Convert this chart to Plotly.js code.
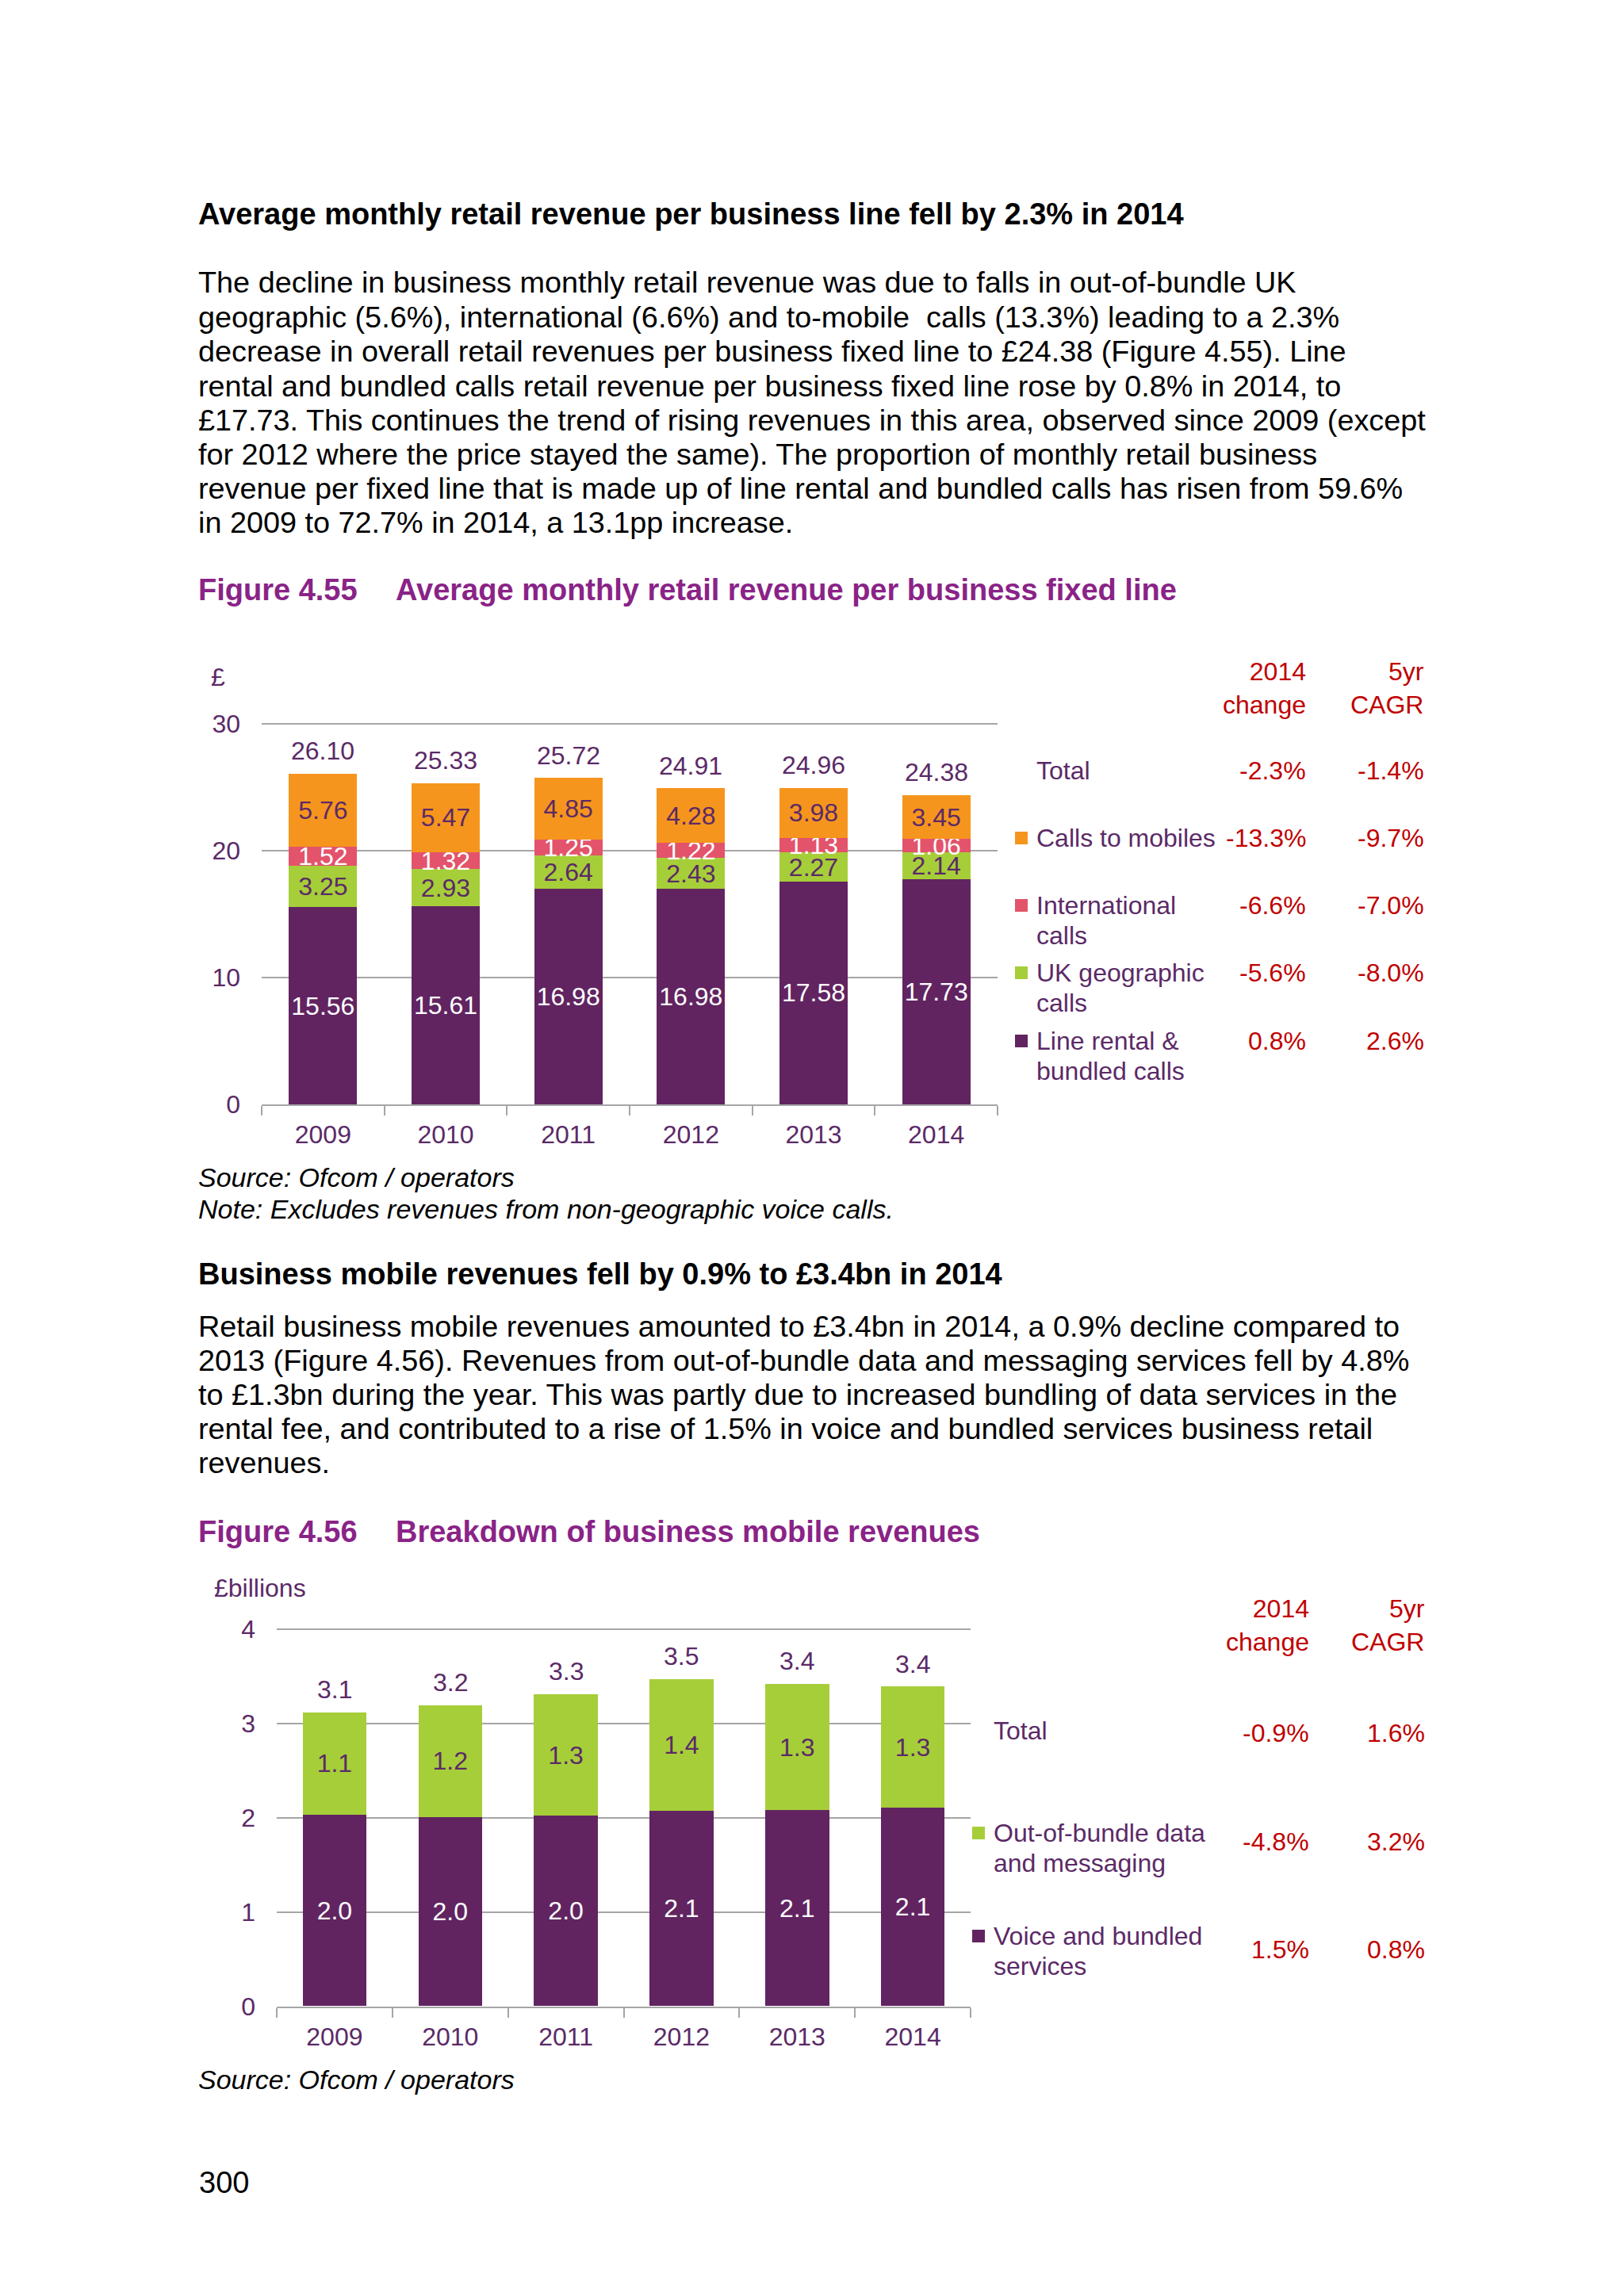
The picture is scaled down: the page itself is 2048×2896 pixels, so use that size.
<!DOCTYPE html>
<html>
<head>
<meta charset="utf-8">
<script src="https://cdn.plot.ly/plotly-3.0.1.min.js"></script>
<style>
  html, body { margin: 0; padding: 0; background: #ffffff; }
  #page { width: 2048px; height: 2896px; }
</style>
</head>
<body>
<div id="page"></div>
<script>
// ---------------- DATA ----------------
const years = ['2009', '2010', '2011', '2012', '2013', '2014'];

// Figure 4.55 (GBP per business fixed line per month)
const lineRental = [15.56, 15.61, 16.98, 16.98, 17.58, 17.73];
const ukGeographic = [3.25, 2.93, 2.64, 2.43, 2.27, 2.14];
const international = [1.52, 1.32, 1.25, 1.22, 1.13, 1.06];
const callsToMobiles = [5.76, 5.47, 4.85, 4.28, 3.98, 3.45];
const totals455 = [26.10, 25.33, 25.72, 24.91, 24.96, 24.38];
const yTicks455 = [0, 10, 20, 30];

const legend455 = ['Total', 'Calls to mobiles', 'International<br>calls', 'UK geographic<br>calls', 'Line rental &<br>bundled calls'];
const change455 = ['-2.3%', '-13.3%', '-6.6%', '-5.6%', '0.8%'];
const cagr455 = ['-1.4%', '-9.7%', '-7.0%', '-8.0%', '2.6%'];

// Figure 4.56 (GBP billions)
const voiceBundled = [2.03, 2.01, 2.02, 2.07, 2.08, 2.11];
const outOfBundle = [1.09, 1.18, 1.29, 1.40, 1.34, 1.28];
const yTicks456 = [0, 1, 2, 3, 4];

const legend456 = ['Total', 'Out-of-bundle data<br>and messaging', 'Voice and bundled<br>services'];
const change456 = ['-0.9%', '-4.8%', '1.5%'];
const cagr456 = ['1.6%', '3.2%', '0.8%'];

// ---------------- TEXT ----------------
const heading1 = 'Average monthly retail revenue per business line fell by 2.3% in 2014';
const para1 = [
  'The decline in business monthly retail revenue was due to falls in out-of-bundle UK',
  'geographic (5.6%), international (6.6%) and to-mobile  calls (13.3%) leading to a 2.3%',
  'decrease in overall retail revenues per business fixed line to £24.38 (Figure 4.55). Line',
  'rental and bundled calls retail revenue per business fixed line rose by 0.8% in 2014, to',
  '£17.73. This continues the trend of rising revenues in this area, observed since 2009 (except',
  'for 2012 where the price stayed the same). The proportion of monthly retail business',
  'revenue per fixed line that is made up of line rental and bundled calls has risen from 59.6%',
  'in 2009 to 72.7% in 2014, a 13.1pp increase.'
];
const fig455Num = 'Figure 4.55';
const fig455Title = 'Average monthly retail revenue per business fixed line';
const source455 = 'Source: Ofcom / operators';
const note455 = 'Note: Excludes revenues from non-geographic voice calls.';

const heading2 = 'Business mobile revenues fell by 0.9% to £3.4bn in 2014';
const para2 = [
  'Retail business mobile revenues amounted to £3.4bn in 2014, a 0.9% decline compared to',
  '2013 (Figure 4.56). Revenues from out-of-bundle data and messaging services fell by 4.8%',
  'to £1.3bn during the year. This was partly due to increased bundling of data services in the',
  'rental fee, and contributed to a rise of 1.5% in voice and bundled services business retail',
  'revenues.'
];
const fig456Num = 'Figure 4.56';
const fig456Title = 'Breakdown of business mobile revenues';
const source456 = 'Source: Ofcom / operators';
const pageNumber = '300';

// ---------------- STYLE ----------------
const W = 2048, H = 2896;
const FONT = '"Liberation Sans", Arial, "DejaVu Sans", sans-serif';
const C_PURPLE = '#612461';
const C_GREEN = '#A6CE39';
const C_PINK = '#E3536B';
const C_ORANGE = '#F6951D';
const C_TEXT = '#5B2A67';
const C_RED = '#C00000';
const C_FIG = '#8A2387';
const C_GRID = '#A6A6A6';

const px = x => x / W;
const py = y => 1 - y / H;

function txt(text, x, y, size, color, xa) {
  return {
    text: text, x: px(x), y: py(y), xref: 'paper', yref: 'paper',
    xanchor: xa || 'left', yanchor: 'middle', showarrow: false, align: xa === 'right' ? 'right' : 'left',
    font: { family: FONT, size: size, color: color }
  };
}

const annotations = [];
const shapes = [];

// Page text
annotations.push(txt('<b>' + heading1 + '</b>', 248, 270, 38, '#000000'));
const para1Y = [356, 400, 443.5, 486.5, 530, 573, 616, 659];
para1.forEach((l, i) => annotations.push(txt(l, 248, para1Y[i], 37.8, '#000000')));
annotations.push(txt('<b>' + fig455Num + '</b>', 248, 744, 38, C_FIG));
annotations.push(txt('<b>' + fig455Title + '</b>', 497, 744, 38, C_FIG));
annotations.push(txt('<i>' + source455 + '</i>', 248, 1485, 34, '#000000'));
annotations.push(txt('<i>' + note455 + '</i>', 248, 1525, 34, '#000000'));

annotations.push(txt('<b>' + heading2 + '</b>', 248, 1607, 38, '#000000'));
const para2Y = [1673, 1716, 1759, 1802, 1845];
para2.forEach((l, i) => annotations.push(txt(l, 248, para2Y[i], 37.8, '#000000')));
annotations.push(txt('<b>' + fig456Num + '</b>', 248, 1932, 38, C_FIG));
annotations.push(txt('<b>' + fig456Title + '</b>', 497, 1932, 38, C_FIG));
annotations.push(txt('<i>' + source456 + '</i>', 248, 2623, 34, '#000000'));
annotations.push(txt(pageNumber, 249, 2753, 38, '#000000'));

// Chart 1 unit label and table
annotations.push(txt('£', 275, 854, 32, C_TEXT, 'center'));
annotations.push(txt('2014<br>change', 1649, 868, 32, C_RED, 'right'));
annotations.push(txt('5yr<br>CAGR', 1798, 868, 32, C_RED, 'right'));
const rowY455 = [972, 1057, 1142, 1227, 1313];
const rowC455 = [null, C_ORANGE, C_PINK, C_GREEN, C_PURPLE];
legend455.forEach((lab, i) => {
  const lines = lab.split('<br>');
  lines.forEach((ln, j) => annotations.push(txt(ln, 1305, rowY455[i] + j * 37.5, 32, C_TEXT)));
  annotations.push(txt(change455[i], 1649, rowY455[i], 32, C_RED, 'right'));
  annotations.push(txt(cagr455[i], 1798, rowY455[i], 32, C_RED, 'right'));
  if (rowC455[i]) {
    shapes.push({ type: 'rect', xref: 'paper', yref: 'paper', x0: px(1280), x1: px(1296),
      y0: py(rowY455[i] + 8), y1: py(rowY455[i] - 8), fillcolor: rowC455[i], line: { width: 0 } });
  }
});

// Chart 2 unit label and table
annotations.push(txt('£billions', 268, 2003, 32, C_TEXT));
annotations.push(txt('2014<br>change', 1653, 2050, 32, C_RED, 'right'));
annotations.push(txt('5yr<br>CAGR', 1799, 2050, 32, C_RED, 'right'));
const rowY456 = [2183, 2312, 2442];
const pctY456 = [2186, 2323, 2459];
const rowC456 = [null, C_GREEN, C_PURPLE];
legend456.forEach((lab, i) => {
  const lines = lab.split('<br>');
  lines.forEach((ln, j) => annotations.push(txt(ln, 1251, rowY456[i] + j * 38, 32, C_TEXT)));
  annotations.push(txt(change456[i], 1653, pctY456[i], 32, C_RED, 'right'));
  annotations.push(txt(cagr456[i], 1799, pctY456[i], 32, C_RED, 'right'));
  if (rowC456[i]) {
    shapes.push({ type: 'rect', xref: 'paper', yref: 'paper', x0: px(1226), x1: px(1242),
      y0: py(rowY456[i] + 8), y1: py(rowY456[i] - 8), fillcolor: rowC456[i], line: { width: 0 } });
  }
});

// Totals above bars (data coordinates; x given as category index)
years.forEach((yr, i) => {
  annotations.push({ text: totals455[i].toFixed(2), x: i, y: totals455[i], xref: 'x', yref: 'y',
    yanchor: 'middle', yshift: 28.5, showarrow: false, font: { family: FONT, size: 32, color: C_TEXT } });
  const t2 = voiceBundled[i] + outOfBundle[i];
  annotations.push({ text: t2.toFixed(1), x: i, y: t2, xref: 'x2', yref: 'y2',
    yanchor: 'middle', yshift: 29, showarrow: false, font: { family: FONT, size: 32, color: C_TEXT } });
});

// ---------------- TRACES ----------------
function barTrace(vals, color, textColor, xa, ya, digits, name, w) {
  return {
    type: 'bar', x: years, y: vals, xaxis: xa, yaxis: ya, name: name,
    marker: { color: color, line: { width: 0 } }, width: w,
    text: vals.map(v => v.toFixed(digits)), textposition: 'inside', insidetextanchor: 'middle',
    textangle: 0, constraintext: 'none', cliponaxis: false,
    insidetextfont: { family: FONT, size: 32, color: textColor },
    hoverinfo: 'skip'
  };
}

const traces = [
  barTrace(lineRental, C_PURPLE, '#FFFFFF', 'x', 'y', 2, 'Line rental & bundled calls', 0.556),
  barTrace(ukGeographic, C_GREEN, C_TEXT, 'x', 'y', 2, 'UK geographic calls', 0.556),
  barTrace(international, C_PINK, '#FFFFFF', 'x', 'y', 2, 'International calls', 0.556),
  barTrace(callsToMobiles, C_ORANGE, C_TEXT, 'x', 'y', 2, 'Calls to mobiles', 0.556),
  barTrace(voiceBundled, C_PURPLE, '#FFFFFF', 'x2', 'y2', 1, 'Voice and bundled services', 0.552),
  barTrace(outOfBundle, C_GREEN, C_TEXT, 'x2', 'y2', 1, 'Out-of-bundle data and messaging', 0.552)
];

function xAxis(d0, d1, anchor) {
  return {
    type: 'category', domain: [px(d0), px(d1)], anchor: anchor, range: [-0.5, years.length - 0.5],
    showline: true, linecolor: C_GRID, linewidth: 2, mirror: false,
    ticks: 'outside', tickson: 'boundaries', ticklen: 12, tickwidth: 2, tickcolor: C_GRID,
    showgrid: false, zeroline: false, fixedrange: true, tickangle: 0,
    tickfont: { family: FONT, size: 32, color: C_TEXT }, ticklabelstandoff: 9
  };
}
function yAxis(top, bottom, range, tickvals, anchor) {
  return {
    domain: [py(bottom), py(top)], anchor: anchor, range: range, tickvals: tickvals,
    showline: false, showgrid: true, gridcolor: C_GRID, gridwidth: 2, zeroline: false,
    ticks: '', fixedrange: true, ticklabelstandoff: 26,
    tickfont: { family: FONT, size: 32, color: C_TEXT }
  };
}

const layout = {
  width: W, height: H, margin: { l: 0, r: 0, t: 0, b: 0 },
  paper_bgcolor: '#FFFFFF', plot_bgcolor: 'rgba(0,0,0,0)',
  barmode: 'stack', showlegend: false, hovermode: false,
  font: { family: FONT, color: C_TEXT },
  xaxis: xAxis(330, 1258, 'y'),
  yaxis: yAxis(911.4, 1393, [0, 30.1], yTicks455, 'x'),
  xaxis2: xAxis(349, 1224, 'y2'),
  yaxis2: yAxis(2053.2, 2530.5, [0, 4.015], yTicks456, 'x2'),
  annotations: annotations,
  shapes: shapes
};

Plotly.newPlot('page', traces, layout, { displayModeBar: false, staticPlot: true });
</script>
</body>
</html>
